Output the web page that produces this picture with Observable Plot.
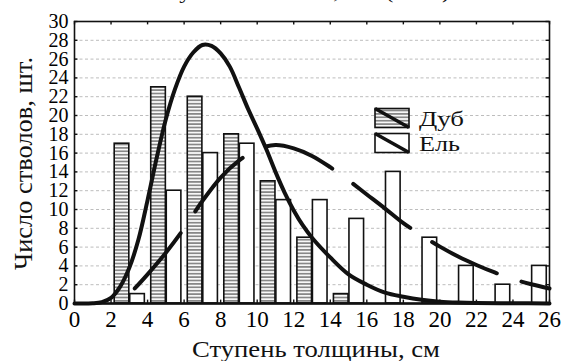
<!DOCTYPE html>
<html><head><meta charset="utf-8">
<script src="https://cdn.jsdelivr.net/npm/d3@7"></script>
<script src="https://cdn.jsdelivr.net/npm/@observablehq/plot@0.6"></script>
<style>
html,body{margin:0;padding:0;background:#fff;}
#chart{position:relative;width:574px;height:361px;overflow:hidden;}
#chart svg{display:block;}
</style></head><body><div id="chart"></div>
<script>
// ---- data ----
const seriesNames = ["Дуб", "Ель"];
const classes = [3, 5, 7, 9, 11, 13, 15, 17, 19, 21, 23, 25];
const oakCounts = [17, 23, 22, 18, 13, 7, 1, 0, 0, 0, 0, 0];
const spruceCounts = [1, 12, 16, 17, 11, 11, 9, 14, 7, 4, 2, 4];

const oakCurveX = [0, 1, 1.5, 2, 2.5, 3, 3.5, 4, 4.5, 5, 5.5, 6, 6.5, 7, 7.5, 8, 8.5, 9, 9.5, 10, 10.5, 11, 11.5, 12, 12.5, 13, 14, 15, 16, 17, 18, 19, 20, 21, 22, 24, 26];
const oakCurveY = [0, 0.02, 0.15, 0.6, 1.8, 3.8, 6.8, 11.0, 15.5, 19.6, 22.8, 25.2, 26.7, 27.5, 27.4, 26.6, 25.2, 23.0, 20.7, 18.6, 16.4, 14.0, 11.8, 9.9, 8.3, 7.0, 4.9, 3.1, 2.0, 1.15, 0.72, 0.4, 0.2, 0.1, 0.05, 0.02, 0.01];

const spruceCurveX = [3.3, 4, 5, 6, 7, 8, 9, 10, 11, 12, 13, 14, 15, 16, 17, 18, 19, 20, 21, 22, 23, 24, 25, 26];
const spruceCurveY = [1.6, 3.1, 5.4, 8.0, 10.9, 13.4, 15.2, 16.4, 16.85, 16.5, 15.7, 14.5, 13.1, 11.6, 10.1, 8.55, 7.25, 6.05, 5.0, 4.1, 3.3, 2.6, 2.05, 1.6];

const xTicks = [0, 2, 4, 6, 8, 10, 12, 14, 16, 18, 20, 22, 24, 26];
const yTicks = [0, 2, 4, 6, 8, 10, 12, 14, 16, 18, 20, 22, 24, 26, 28, 30];

const xTitle = "Ступень толщины, см";
const yTitle = "Число стволов, шт.";
const topTitle = "Густота стояния, шт. (2016)";

// ---- tables ----
const oakBars = classes.map((c, i) => ({c, v: oakCounts[i]}));
const spruceBars = classes.map((c, i) => ({c, v: spruceCounts[i]}));
const oakCurve = oakCurveX.map((x, i) => ({x, y: oakCurveY[i]}));
const spruceCurve = spruceCurveX.map((x, i) => ({x, y: spruceCurveY[i]}));

const ink = "#111";
const font = "Liberation Serif";

const plot = Plot.plot({
  width: 574, height: 361,
  marginLeft: 74, marginRight: 25, marginTop: 21, marginBottom: 58,
  style: {fontFamily: font, background: "#fff"},
  x: {domain: [0, 26]},
  y: {domain: [0, 30]},
  marks: [
    Plot.ruleY(yTicks.filter(d => d > 0 && d < 30), {stroke: "#bdbdbd", strokeWidth: 1, strokeDasharray: "3,2.5"}),
    Plot.rect(oakBars, {x1: d => d.c - 0.8, x2: d => d.c, y1: 0, y2: "v", fill: "url(#hatch)", stroke: ink, strokeWidth: 1.6}),
    Plot.rect(spruceBars, {x1: d => d.c + 0.05, x2: d => d.c + 0.85, y1: 0, y2: "v", fill: "#fff", stroke: ink, strokeWidth: 1.6}),
    Plot.line(oakCurve, {x: "x", y: "y", curve: "catmull-rom", stroke: ink, strokeWidth: 4}),
    Plot.line(spruceCurve, {x: "x", y: "y", curve: "catmull-rom", stroke: ink, strokeWidth: 4, strokeDasharray: "72,26"}),
    Plot.frame({stroke: ink, strokeWidth: 1.6}),
    Plot.ruleY([0], {stroke: ink, strokeWidth: 2.6}),
    Plot.ruleX(xTicks, {y1: 0, y2: 0.36, stroke: ink, strokeWidth: 1.4}),
    Plot.ruleX(xTicks, {y1: 29.64, y2: 30, stroke: ink, strokeWidth: 1.4}),
    Plot.ruleY(yTicks, {x1: 0, x2: 0.19, stroke: ink, strokeWidth: 1.4}),
    Plot.ruleY(yTicks, {x1: 25.81, x2: 26, stroke: ink, strokeWidth: 1.4}),
    Plot.axisX({ticks: xTicks, tickSize: 0, tickPadding: 7, fontSize: 23, label: null}),
    Plot.axisY({ticks: yTicks, tickSize: 0, tickPadding: 6, fontSize: 20, label: null})
  ]
});

const svg = d3.select(plot);
svg.attr("font-family", font);
const defs = svg.insert("defs", ":first-child");
const pat = defs.append("pattern").attr("id", "hatch").attr("patternUnits", "userSpaceOnUse")
  .attr("width", 8).attr("height", 3.4);
pat.append("rect").attr("width", 8).attr("height", 3.4).attr("fill", "#fff");
pat.append("rect").attr("y", 0.8).attr("width", 8).attr("height", 1.8).attr("fill", "#888");

// titles
svg.append("text").text(xTitle)
  .attr("x", 316).attr("y", 357).attr("text-anchor", "middle").attr("font-size", 23).attr("fill", ink)
  .attr("textLength", 248).attr("lengthAdjust", "spacingAndGlyphs");
svg.append("text").text(yTitle)
  .attr("transform", "translate(32,163.5) rotate(-90)").attr("text-anchor", "middle").attr("font-size", 26).attr("fill", ink)
  .attr("textLength", 213).attr("lengthAdjust", "spacingAndGlyphs");
svg.append("text").text(topTitle)
  .attr("x", 166).attr("y", -2).attr("text-anchor", "start").attr("font-size", 22).attr("fill", ink)
  .attr("textLength", 284).attr("lengthAdjust", "spacingAndGlyphs");

// legend
const lg = svg.append("g");
const items = [
  {name: seriesNames[0], fill: "url(#hatch)", y: 108.5, tw: 45},
  {name: seriesNames[1], fill: "#fff", y: 133.5, tw: 41}
];
items.forEach(it => {
  lg.append("rect").attr("x", 375).attr("y", it.y).attr("width", 34).attr("height", 19)
    .attr("fill", it.fill).attr("stroke", ink).attr("stroke-width", 1.6);
  lg.append("line").attr("x1", 375).attr("y1", it.y).attr("x2", 409).attr("y2", it.y + 19)
    .attr("stroke", ink).attr("stroke-width", 3.5);
  lg.append("text").text(it.name).attr("x", 419).attr("y", it.y + 17.5).attr("text-anchor", "start")
    .attr("font-size", 22).attr("fill", ink)
    .attr("textLength", it.tw).attr("lengthAdjust", "spacingAndGlyphs");
});

svg.selectAll("text").attr("font-family", font).style("font-family", font);
document.getElementById("chart").appendChild(plot);
getComputedStyle(plot).fontFamily;
plot.querySelectorAll("text").forEach(t => { getComputedStyle(t).fontFamily; t.getBBox(); });
document.body.offsetHeight;
</script>
</body></html>
